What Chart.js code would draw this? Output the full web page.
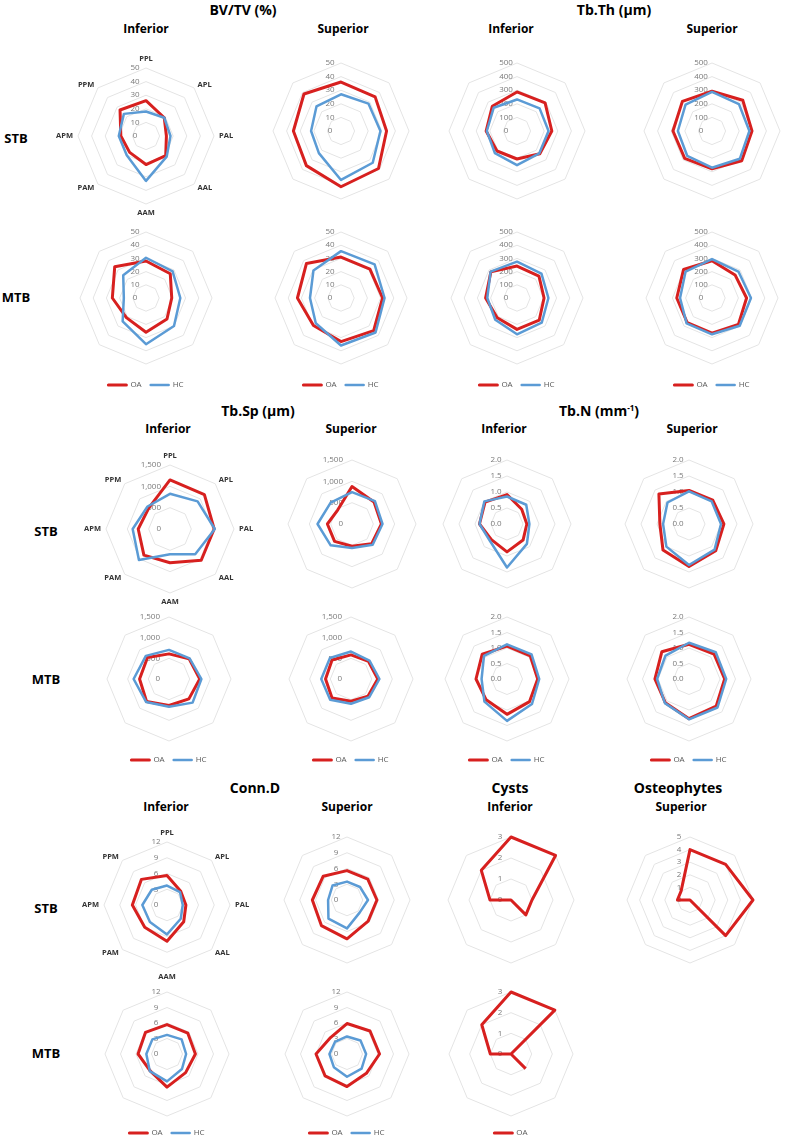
<!DOCTYPE html>
<html>
<head>
<meta charset="utf-8">
<script src="https://cdn.jsdelivr.net/npm/chart.js@4.4.1/dist/chart.umd.min.js"></script>
<style>
body { margin: 0; background: #fff; }
#page { position: relative; width: 786px; height: 1147px; overflow: hidden; font-family: 'Open Sans', sans-serif; }
.t { position: absolute; transform: translate(-50%, -50%); white-space: nowrap; font-weight: bold; color: #000; line-height: 1; }
.h1 { font-size: 14px; }
.h2 { font-size: 12px; }
.row { font-size: 13px; }
.t sup { font-size: 8px; }
canvas { position: absolute; }
</style>
</head>
<body>
<div id="page">
  <div class="t h1" style="left:243px;top:10px">BV/TV (%)</div>
  <div class="t h1" style="left:614px;top:10px">Tb.Th (µm)</div>
  <div class="t h2" style="left:146px;top:29px">Inferior</div>
  <div class="t h2" style="left:343px;top:29px">Superior</div>
  <div class="t h2" style="left:511px;top:29px">Inferior</div>
  <div class="t h2" style="left:712px;top:29px">Superior</div>
  <div class="t row" style="left:16px;top:138px">STB</div>
  <div class="t row" style="left:16px;top:297px">MTB</div>

  <div class="t h1" style="left:258px;top:411px">Tb.Sp (µm)</div>
  <div class="t h1" style="left:599px;top:411px">Tb.N (mm<sup>-1</sup>)</div>
  <div class="t h2" style="left:168px;top:429px">Inferior</div>
  <div class="t h2" style="left:351px;top:429px">Superior</div>
  <div class="t h2" style="left:504px;top:429px">Inferior</div>
  <div class="t h2" style="left:692px;top:429px">Superior</div>
  <div class="t row" style="left:46px;top:531px">STB</div>
  <div class="t row" style="left:46px;top:679px">MTB</div>

  <div class="t h1" style="left:255px;top:788px">Conn.D</div>
  <div class="t h1" style="left:510px;top:788px">Cysts</div>
  <div class="t h1" style="left:678px;top:788px">Osteophytes</div>
  <div class="t h2" style="left:166px;top:807px">Inferior</div>
  <div class="t h2" style="left:347px;top:807px">Superior</div>
  <div class="t h2" style="left:510px;top:807px">Inferior</div>
  <div class="t h2" style="left:681px;top:807px">Superior</div>
  <div class="t row" style="left:46px;top:908px">STB</div>
  <div class="t row" style="left:46px;top:1053px">MTB</div>
</div>
<script>
// regions, clockwise from the top
const regions = ['PPL', 'APL', 'PAL', 'AAL', 'AAM', 'PAM', 'APM', 'PPM'];

// tick values
const bvtvTicks = [0, 10, 20, 30, 40, 50];
const tbthTicks = [0, 100, 200, 300, 400, 500];
const tbspTicks = [0, 500, 1000, 1500];
const tbnTicks = [0, 0.5, 1, 1.5, 2];
const conndTicks = [0, 3, 6, 9, 12];
const cystTicks = [0, 1, 2, 3];
const osteoTicks = [0, 1, 2, 3, 4, 5];

// BV/TV (%)
const bvtvStbInfOA = [26, 19, 15, 20.5, 21, 17, 18.5, 27];
const bvtvStbInfHC = [18, 19, 18, 21.5, 33, 20, 20, 23];
const bvtvStbSupOA = [36, 35.5, 33.5, 39, 41, 36, 35, 38.5];
const bvtvStbSupHC = [27, 28.5, 29, 33, 36, 23, 22, 25.5];
const bvtvMtbInfOA = [28, 26, 19.5, 22.5, 26, 21, 25.5, 33.5];
const bvtvMtbInfHC = [30.5, 28.5, 26, 30, 35, 25, 16.8, 24.4];
const bvtvMtbSupOA = [31, 31, 31.5, 35, 33, 29.5, 33, 37];
const bvtvMtbSupHC = [35.5, 36, 33, 37, 36, 27, 23.5, 29.5];

// Tb.Th (um)
const tbthStbInfOA = [287, 292, 256, 237, 206, 208, 227, 257];
const tbthStbInfHC = [232, 235, 232, 232, 251, 230, 222, 242];
const tbthStbSupOA = [292, 320, 294, 309, 278, 284, 287, 308];
const tbthStbSupHC = [287, 280, 275, 289, 270, 258, 251, 275];
const tbthMtbInfOA = [242, 235, 205, 238, 238, 212, 238, 280];
const tbthMtbInfHC = [275, 262, 238, 265, 275, 233, 225, 283];
const tbthMtbSupOA = [282, 247, 262, 283, 267, 265, 267, 305];
const tbthMtbSupHC = [295, 283, 295, 297, 275, 272, 242, 283];

// Tb.Sp (um)
const tbspStbInfOA = [1150, 1140, 1035, 1035, 790, 865, 745, 700];
const tbspStbInfHC = [825, 915, 1050, 835, 590, 1030, 875, 745];
const tbspStbSupOA = [877, 730, 690, 653, 523, 577, 577, 470];
const tbspStbSupHC = [746, 760, 715, 685, 561, 707, 808, 707];
const tbspMtbInfOA = [608, 688, 744, 680, 640, 768, 712, 736];
const tbspMtbInfHC = [704, 704, 784, 808, 672, 784, 856, 792];
const tbspMtbSupOA = [584, 600, 648, 584, 536, 648, 616, 648];
const tbspMtbSupHC = [664, 632, 688, 624, 600, 712, 720, 720];

// Tb.N (1/mm)
const tbnStbInfOA = [0.92, 0.65, 0.62, 0.71, 0.87, 0.69, 0.86, 0.97];
const tbnStbInfHC = [0.86, 0.85, 0.70, 0.88, 1.36, 0.75, 0.86, 1.0];
const tbnStbSupOA = [1.05, 1.05, 1.09, 1.18, 1.33, 1.15, 0.91, 1.33];
const tbnStbSupHC = [1.02, 1.0, 1.0, 1.13, 1.28, 1.0, 0.81, 0.95];
const tbnMtbInfOA = [1.06, 1.06, 0.99, 1.03, 1.14, 0.95, 1.0, 1.13];
const tbnMtbInfHC = [1.12, 1.12, 1.04, 1.14, 1.35, 1.03, 0.82, 1.05];
const tbnMtbSupOA = [1.12, 1.14, 1.15, 1.24, 1.28, 1.08, 1.1, 1.24];
const tbnMtbSupHC = [1.17, 1.22, 1.2, 1.3, 1.3, 1.1, 1.03, 1.07];

// Conn.D
const conndStbInfOA = [5.6, 3.7, 3.6, 4.5, 6.9, 6.0, 6.6, 6.9];
const conndStbInfHC = [3.7, 3.5, 3.0, 3.7, 5.6, 4.6, 4.7, 4.1];
const conndStbSupOA = [5.6, 5.6, 5.7, 5.7, 7.4, 6.9, 6.6, 6.4];
const conndStbSupHC = [3.5, 3.5, 4.0, 3.4, 5.4, 5.0, 3.6, 3.9];
const conndMtbInfOA = [5.7, 5.7, 5.5, 5.1, 6.4, 4.6, 5.6, 5.9];
const conndMtbInfHC = [3.7, 4.0, 3.7, 4.1, 5.3, 4.7, 4.0, 4.0];
const conndMtbSupOA = [5.9, 6.3, 6.3, 5.3, 6.3, 6.0, 6.0, 4.5];
const conndMtbSupHC = [3.4, 3.7, 3.7, 4.0, 4.4, 3.6, 3.4, 3.3];

// Cysts and osteophytes (OA only)
const cystStbInfOA = [3, 3, 1, 1, 0, 0, 1, 2];
const cystMtbInfOA = [3, 3, 0, 1, null, 0, 1, 2];
const osteoStbSupOA = [4, 4, 5, 4, 0, 0, 1, 1];

const red = '#d7201f';
const blue = '#5b9bd5';

const plain = v => String(v);
const thousands = v => v.toLocaleString('en-US');
const oneDecimal = v => v.toFixed(1);

// where each radar goes on the page
const specs = [
    {cx: 146, cy: 136, R: 68, ticks: bvtvTicks, oa: bvtvStbInfOA, hc: bvtvStbInfHC, regions: true},
    {cx: 341, cy: 131, R: 68, ticks: bvtvTicks, oa: bvtvStbSupOA, hc: bvtvStbSupHC},
    {cx: 517, cy: 131, R: 68, ticks: tbthTicks, oa: tbthStbInfOA, hc: tbthStbInfHC},
    {cx: 712, cy: 131, R: 68, ticks: tbthTicks, oa: tbthStbSupOA, hc: tbthStbSupHC},
    {cx: 146, cy: 298, R: 66, ticks: bvtvTicks, oa: bvtvMtbInfOA, hc: bvtvMtbInfHC, legend: 87},
    {cx: 341, cy: 298, R: 66, ticks: bvtvTicks, oa: bvtvMtbSupOA, hc: bvtvMtbSupHC, legend: 87},
    {cx: 517, cy: 298, R: 66, ticks: tbthTicks, oa: tbthMtbInfOA, hc: tbthMtbInfHC, legend: 87},
    {cx: 712, cy: 298, R: 66, ticks: tbthTicks, oa: tbthMtbSupOA, hc: tbthMtbSupHC, legend: 87},

    {cx: 170, cy: 529, R: 64, ticks: tbspTicks, fmt: thousands, align: 'right', oa: tbspStbInfOA, hc: tbspStbInfHC, regions: true},
    {cx: 352, cy: 524, R: 64, ticks: tbspTicks, fmt: thousands, align: 'right', oa: tbspStbSupOA, hc: tbspStbSupHC},
    {cx: 507, cy: 524, R: 64, ticks: tbnTicks, fmt: oneDecimal, oa: tbnStbInfOA, hc: tbnStbInfHC},
    {cx: 689, cy: 524, R: 64, ticks: tbnTicks, fmt: oneDecimal, oa: tbnStbSupOA, hc: tbnStbSupHC},
    {cx: 169, cy: 679, R: 62, ticks: tbspTicks, fmt: thousands, align: 'right', oa: tbspMtbInfOA, hc: tbspMtbInfHC, legend: 81},
    {cx: 351, cy: 679, R: 62, ticks: tbspTicks, fmt: thousands, align: 'right', oa: tbspMtbSupOA, hc: tbspMtbSupHC, legend: 81},
    {cx: 507, cy: 679, R: 62, ticks: tbnTicks, fmt: oneDecimal, oa: tbnMtbInfOA, hc: tbnMtbInfHC, legend: 81},
    {cx: 689, cy: 679, R: 62, ticks: tbnTicks, fmt: oneDecimal, oa: tbnMtbSupOA, hc: tbnMtbSupHC, legend: 81},

    {cx: 167, cy: 905, R: 63, ticks: conndTicks, oa: conndStbInfOA, hc: conndStbInfHC, regions: true},
    {cx: 347, cy: 900, R: 63, ticks: conndTicks, oa: conndStbSupOA, hc: conndStbSupHC},
    {cx: 511, cy: 900, R: 63, ticks: cystTicks, oa: cystStbInfOA},
    {cx: 690, cy: 900, R: 63, ticks: osteoTicks, oa: osteoStbSupOA},
    {cx: 167, cy: 1054, R: 62, ticks: conndTicks, oa: conndMtbInfOA, hc: conndMtbInfHC, legend: 79},
    {cx: 347, cy: 1054, R: 62, ticks: conndTicks, oa: conndMtbSupOA, hc: conndMtbSupHC, legend: 79},
    {cx: 511, cy: 1054, R: 62, ticks: cystTicks, oa: cystMtbInfOA, legend: 79}
];

Chart.defaults.font.family = "'Open Sans', sans-serif";

// tick labels left of the axis, and region names round the outside
const radarText = {
    id: 'radarText',
    beforeDatasetsDraw(chart, args, opts) {
        const s = chart.scales.r;
        const ctx = chart.ctx;
        ctx.save();
        ctx.font = "8px 'Open Sans'";
        ctx.fillStyle = '#7a7a7a';
        ctx.textBaseline = 'middle';
        ctx.textAlign = opts.align;
        const dx = opts.align === 'right' ? -9 : -11;
        s.ticks.forEach(t => {
            const d = s.getDistanceFromCenterForValue(t.value);
            ctx.fillText(opts.fmt(t.value), s.xCenter + dx, s.yCenter - d);
        });
        if (opts.regions) {
            ctx.font = "bold 7.5px 'Open Sans'";
            ctx.fillStyle = '#333';
            chart.data.labels.forEach((lab, i) => {
                const p = s.getPointPosition(i, s.drawingArea + 5);
                const px = p.x - s.xCenter;
                const py = p.y - s.yCenter;
                if (Math.abs(px) < 1) {
                    ctx.textAlign = 'center';
                    ctx.textBaseline = py < 0 ? 'bottom' : 'top';
                } else {
                    ctx.textAlign = px > 0 ? 'left' : 'right';
                    ctx.textBaseline = 'middle';
                }
                ctx.fillText(lab, p.x, p.y);
            });
        }
        ctx.restore();
    }
};

const page = document.getElementById('page');

specs.forEach(spec => {
    const W = 2 * spec.R + 60;
    let H = 2 * spec.R + 60;
    let padding = 30;
    if (spec.legend) {
        // legend text sits spec.legend px below the centre
        const g = spec.legend - spec.R - 13;
        H = 57 + 2 * spec.R + g + 3;
        padding = {left: 30, right: 30, top: 30 - g, bottom: 3};
    }
    const canvas = document.createElement('canvas');
    canvas.width = W;
    canvas.height = H;
    page.appendChild(canvas);

    const datasets = [{
        label: 'OA',
        data: spec.oa,
        borderColor: red,
        backgroundColor: red,
        borderWidth: 3,
        order: 1
    }];
    if (spec.hc) {
        datasets.push({
            label: 'HC',
            data: spec.hc,
            borderColor: blue,
            backgroundColor: blue,
            borderWidth: 2.5,
            order: 0
        });
    }

    const ticks = spec.ticks;
    const chart = new Chart(canvas, {
        type: 'radar',
        data: {labels: regions, datasets: datasets},
        options: {
            responsive: false,
            animation: false,
            layout: {padding: padding},
            elements: {
                line: {tension: 0, fill: false, borderJoinStyle: 'round', spanGaps: false},
                point: {radius: 0, hoverRadius: 0}
            },
            scales: {
                r: {
                    min: ticks[0],
                    max: ticks[ticks.length - 1],
                    ticks: {display: false, stepSize: ticks[1] - ticks[0]},
                    grid: {color: '#e4e4e4', lineWidth: 1},
                    angleLines: {display: false},
                    pointLabels: {display: false}
                }
            },
            plugins: {
                tooltip: {enabled: false},
                legend: {
                    display: !!spec.legend,
                    position: 'bottom',
                    labels: {
                        boxWidth: 18,
                        boxHeight: 0,
                        padding: 9,
                        color: '#595959',
                        font: {size: 8},
                        sort: (a, b) => a.datasetIndex - b.datasetIndex
                    }
                },
                radarText: {
                    fmt: spec.fmt || plain,
                    align: spec.align || 'center',
                    regions: !!spec.regions
                }
            }
        },
        plugins: [radarText]
    });

    const s = chart.scales.r;
    canvas.style.left = (spec.cx - s.xCenter) + 'px';
    canvas.style.top = (spec.cy - s.yCenter) + 'px';
});
</script>
</body>
</html>
